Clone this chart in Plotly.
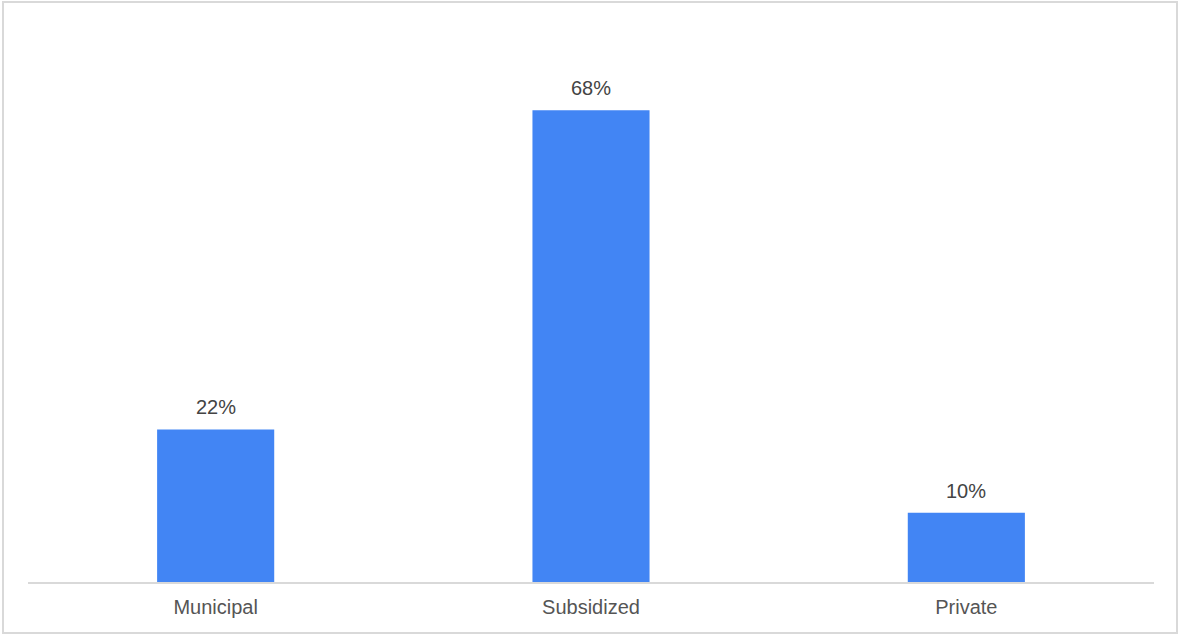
import plotly.graph_objects as go

categories = ["Municipal", "Subsidized", "Private"]
values = [22, 68, 10]
value_labels = ["22%", "68%", "10%"]

W, H = 1179, 635
ml, mr, mt, mb = 28, 25, 27, 53
pw = W - ml - mr
ph = H - mt - mb

fig = go.Figure()
fig.add_trace(go.Bar(
    x=categories, y=values,
    marker=dict(color="#4285F4", line=dict(width=0)),
    hoverinfo="skip",
))

for c, v, t in zip(categories, values, value_labels):
    fig.add_annotation(x=c, y=v, text=t, showarrow=False, yanchor="bottom",
                       yshift=9, font=dict(family="Liberation Sans, Arial", size=20, color="#444444"))

# outer border
fig.add_shape(type="rect", xref="paper", yref="paper",
              x0=(3 - ml) / pw, x1=(1177 - ml) / pw,
              y0=(H - mb - 633) / ph, y1=(H - mb - 2) / ph,
              line=dict(color="#d9d9d9", width=2), fillcolor="rgba(0,0,0,0)", layer="below")

fig.update_layout(
    width=W, height=H,
    margin=dict(l=ml, r=mr, t=mt, b=mb, pad=0),
    paper_bgcolor="white", plot_bgcolor="white",
    bargap=0.688,
    showlegend=False,
    xaxis=dict(showline=True, linecolor="#d9d9d9", linewidth=2, showgrid=False,
               ticks="", ticklabelstandoff=6,
               tickfont=dict(family="Liberation Sans, Arial", size=20, color="#555555"),
               zeroline=False),
    yaxis=dict(range=[0, 80], visible=False, showgrid=False, zeroline=False),
)

fig.write_html("out.html", config={"displayModeBar": False},
               post_script="document.body.style.margin='0';document.body.style.overflow='hidden';")
